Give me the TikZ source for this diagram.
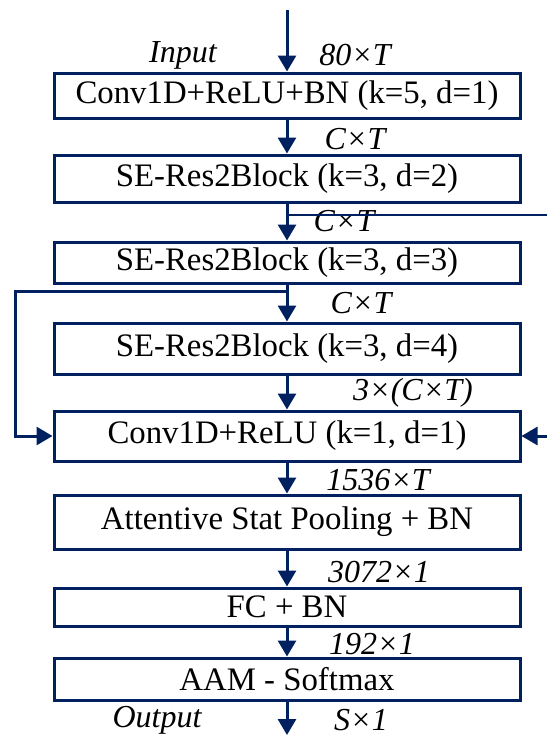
\documentclass[tikz,border=0pt]{standalone}
\usepackage{fontspec}
\setmainfont{Liberation Serif}
\usetikzlibrary{arrows.meta}
\definecolor{NavyLine}{RGB}{0,32,96}

\begin{document}
\begin{tikzpicture}[
 x=0.5pt, y=-0.5pt,
 block/.style={draw=NavyLine, line width=1.5pt, align=center, minimum width=233pt, inner sep=0pt, font=\fontsize{16.4}{19}\selectfont},
 dimlabel/.style={font=\fontsize{16}{19}\selectfont\itshape, inner sep=0pt},
 arr/.style={draw=NavyLine, line width=1.5pt, -{Triangle[length=8pt,width=9pt]}},
 wire/.style={draw=NavyLine, line width=1.5pt}
]
\useasboundingbox (0,0) rectangle (547,735);

\node[block, minimum height=22.5pt] (conv) at (287,95.5) {Conv1D+ReLU+BN (k=5, d=1)};
\node[block, minimum height=23.5pt] (res2) at (287,178.5) {SE-Res2Block (k=3, d=2)};
\node[block, minimum height=20.5pt] (res3) at (287,262.5) {SE-Res2Block (k=3, d=3)};
\node[block, minimum height=25.5pt] (res4) at (287,348.5) {SE-Res2Block (k=3, d=4)};
\node[block, minimum height=25pt] (mfa) at (287,436) {Conv1D+ReLU (k=1, d=1)};
\node[block, minimum height=27pt] (pool) at (287,522) {Attentive Stat Pooling + BN};
\node[block, minimum height=19pt] (fc) at (287,607) {FC + BN};
\node[block, minimum height=21pt] (aam) at (287,679) {AAM - Softmax};

\coordinate (in) at (287,10);
\coordinate (out) at (287,735);
\coordinate (tapA) at (287,215);
\coordinate (rtA) at (547,215);
\coordinate (tapB) at (287,291);
\coordinate (lfB) at (15,291);
\coordinate (rtB) at (547,436);

\node[dimlabel] (inlab) at (183,55) {Input};
\node[dimlabel] (d0) at (355,55) {80×T};
\node[dimlabel] (d1) at (355,139) {C×T};
\node[dimlabel] (d2) at (344,221) {C×T};
\node[dimlabel] (d3) at (361,303) {C×T};
\node[dimlabel] (d4) at (413,393) {3×(C×T)};
\node[dimlabel] (d5) at (378,480) {1536×T};
\node[dimlabel] (d6) at (379,572) {3072×1};
\node[dimlabel] (d7) at (372,644) {192×1};
\node[dimlabel] (outlab) at (157,720) {Output};
\node[dimlabel] (d8) at (361,720) {S×1};

\draw[arr] (in) -- (conv);
\draw[arr] (conv) -- (res2);
\draw[arr] (res2) -- (res3);
\draw[arr] (res3) -- (res4);
\draw[arr] (res4) -- (mfa);
\draw[arr] (mfa) -- (pool);
\draw[arr] (pool) -- (fc);
\draw[arr] (fc) -- (aam);
\draw[arr] (aam) -- (out);

\draw[wire, line width=1.2pt] (tapA) -- (rtA);
\draw[arr] (tapB) -- (lfB) |- (mfa.west);
\draw[arr] (rtB) -- (mfa.east);
\end{tikzpicture}
\end{document}
